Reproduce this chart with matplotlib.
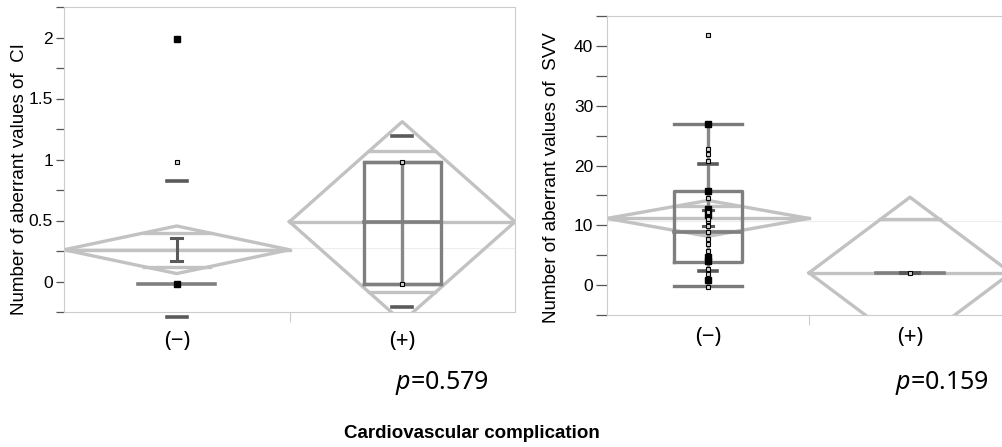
import numpy as np
import matplotlib.pyplot as plt
from matplotlib.transforms import blended_transform_factory
from matplotlib.ticker import MultipleLocator, FixedLocator

plt.rcParams['font.family'] = ['Liberation Sans', 'DejaVu Sans']
plt.rcParams['mathtext.fontset'] = 'custom'
plt.rcParams['mathtext.it'] = 'Noto Sans:italic'
plt.rcParams['mathtext.rm'] = 'Noto Sans'

groups = ['(−)', '(+)']

# --- CI panel ---
ci_pts = [[1.99, 1.99, 0.98, -0.02, -0.02], [0.98, -0.02]]
ci_mean = [0.26, 0.49]
ci_half = [0.195, 0.82]
ci_q1 = [-0.02, -0.02]
ci_med = [-0.02, 0.49]
ci_q3 = [-0.02, 0.98]
ci_wlo = [-0.02, -0.02]
ci_whi = [-0.02, 0.98]
ci_q10 = [-0.29, -0.21]
ci_q90 = [0.82, 1.19]
ci_se = [(0.17, 0.36), None]
ci_grand = 0.274

# --- SVV panel ---
svv_pts = [[41.8, 26.9, 26.9, 22.7, 21.9, 20.7, 15.7, 15.7, 14.6, 12.8, 12.8,
            12.2, 11.8, 11.8, 11.1, 10.8, 9.8, 8.8, 7.7, 6.8, 5.7, 4.7, 4.7,
            4.0, 4.0, 2.7, 1.8, 0.8, 0.8, -0.3],
           [1.95]]
svv_mean = [11.15, 2.05]
svv_half = [3.0, 12.65]
svv_q1 = [3.9, 1.95]
svv_med = [8.9, 1.95]
svv_q3 = [15.8, 1.95]
svv_wlo = [-0.2, 1.95]
svv_whi = [26.9, 1.95]
svv_q10 = [2.3, 1.95]
svv_q90 = [20.3, 1.95]
svv_se = [(9.8, 12.6), None]
svv_grand = 10.67

DIA = '#c2c2c2'
BOX = '#7f7f7f'
MARK = '#5a5a5a'
LW = 2.4


def draw(ax, pts, mean, half, q1, med, q3, wlo, whi, q10, q90, se, grand):
    ax.axhline(grand, color='#ededed', lw=0.8, zorder=0)
    bw = 0.17
    hw = 0.5 * (1 - 1 / np.sqrt(2))
    for i in range(len(mean)):
        x = i
        m, h = mean[i], half[i]
        # means diamond
        ax.plot([x - 0.5, x, x + 0.5, x, x - 0.5], [m, m + h, m, m - h, m],
                color=DIA, lw=LW, zorder=2)
        ax.plot([x - 0.5, x + 0.5], [m, m], color=DIA, lw=LW, zorder=2)
        o = h / np.sqrt(2)
        for yy in (m + o, m - o):
            ax.plot([x - hw, x + hw], [yy, yy], color=DIA, lw=LW, zorder=2)
        # whiskers
        if whi[i] > wlo[i]:
            ax.plot([x, x], [wlo[i], whi[i]], color='#888888', lw=LW, zorder=3)
            for yy in (wlo[i], whi[i]):
                ax.plot([x - bw, x + bw], [yy, yy], color='#7a7a7a', lw=LW, zorder=3)
        # box
        if q3[i] > q1[i]:
            ax.plot([x - bw, x + bw, x + bw, x - bw, x - bw],
                    [q1[i], q1[i], q3[i], q3[i], q1[i]], color=BOX, lw=LW, zorder=3)
        ax.plot([x - bw, x + bw], [med[i], med[i]], color=BOX, lw=LW + 0.2, zorder=3)
        # quantile marks
        for yy in (q10[i], q90[i]):
            ax.plot([x - 0.045, x + 0.045], [yy, yy], color=MARK, lw=LW + 0.2,
                    zorder=4, clip_on=False)
        # standard error bars
        if se[i] is not None:
            lo, hi = se[i]
            ax.plot([x, x], [lo, hi], color=MARK, lw=2.2, zorder=4)
            for yy in (lo, hi):
                ax.plot([x - 0.025, x + 0.025], [yy, yy], color=MARK, lw=2.2, zorder=4)
        # points
        vals, cnt = np.unique(pts[i], return_counts=True)
        many = cnt > 1
        ax.plot(np.full(many.sum(), x), vals[many], 's', ms=4.8, mfc='black',
                mec='black', zorder=5)
        ax.plot(np.full((~many).sum(), x), vals[~many], 's', ms=3, mfc='#d8d8d8',
                mec='black', mew=0.8, zorder=5)


def style(ax, ylim, major, minor, tlen):
    ax.set_xlim(-0.5, 1.5)
    ax.set_ylim(*ylim)
    for s in ax.spines.values():
        s.set_color('#cccccc')
        s.set_linewidth(0.8)
    ax.yaxis.set_major_locator(MultipleLocator(major))
    ax.yaxis.set_minor_locator(MultipleLocator(minor))
    ax.yaxis.set_major_formatter(plt.FuncFormatter(lambda v, p: f'{v:g}'))
    ax.tick_params(axis='y', which='both', direction='out', length=tlen,
                   width=0.9, color='#555555', labelsize=12.5, pad=2)
    ax.xaxis.set_major_locator(FixedLocator([0.5]))
    ax.tick_params(axis='x', which='both', length=7, color='#cccccc',
                   labelbottom=False)


fig = plt.figure(figsize=(10.02, 4.47), dpi=100)
W, H = 1002, 447

ax1 = fig.add_axes([64 / W, 1 - 312 / H, 451 / W, 305 / H])
draw(ax1, ci_pts, ci_mean, ci_half, ci_q1, ci_med, ci_q3, ci_wlo, ci_whi,
     ci_q10, ci_q90, ci_se, ci_grand)
style(ax1, (-0.25, 2.25), 0.5, 0.25, 6)

ax2 = fig.add_axes([607 / W, 1 - 315 / H, 404 / W, 299 / H])
draw(ax2, svv_pts, svv_mean, svv_half, svv_q1, svv_med, svv_q3, svv_wlo, svv_whi,
     svv_q10, svv_q90, svv_se, svv_grand)
style(ax2, (-5, 45), 10, 5, 8)

for ax, yl in ((ax1, 342), (ax2, 338)):
    tr = blended_transform_factory(ax.transData, fig.transFigure)
    for i, g in enumerate(groups):
        ax.text(i, 1 - yl / H, g, transform=tr, ha='center', va='center',
                fontsize=16, family=['Noto Sans', 'DejaVu Sans'])

fig.text(20 / W, 1 - 179 / H, 'Number of aberrant values of  CI', rotation=90,
         ha='center', va='center', fontsize=13.5)
fig.text(551 / W, 1 - 178 / H, 'Number of aberrant values of  SVV', rotation=90,
         ha='center', va='center', fontsize=13.5)

fig.text(395 / W, 1 - 383 / H, r'$p$=0.579', ha='left', va='center',
         fontsize=18, family='Noto Sans')
fig.text(895 / W, 1 - 383 / H, r'$p$=0.159', ha='left', va='center',
         fontsize=18, family='Noto Sans')

fig.text(472 / W, 1 - 433 / H, 'Cardiovascular complication', ha='center',
         va='center', fontsize=13.5, fontweight='bold')

fig.savefig('out.png', dpi=100)
